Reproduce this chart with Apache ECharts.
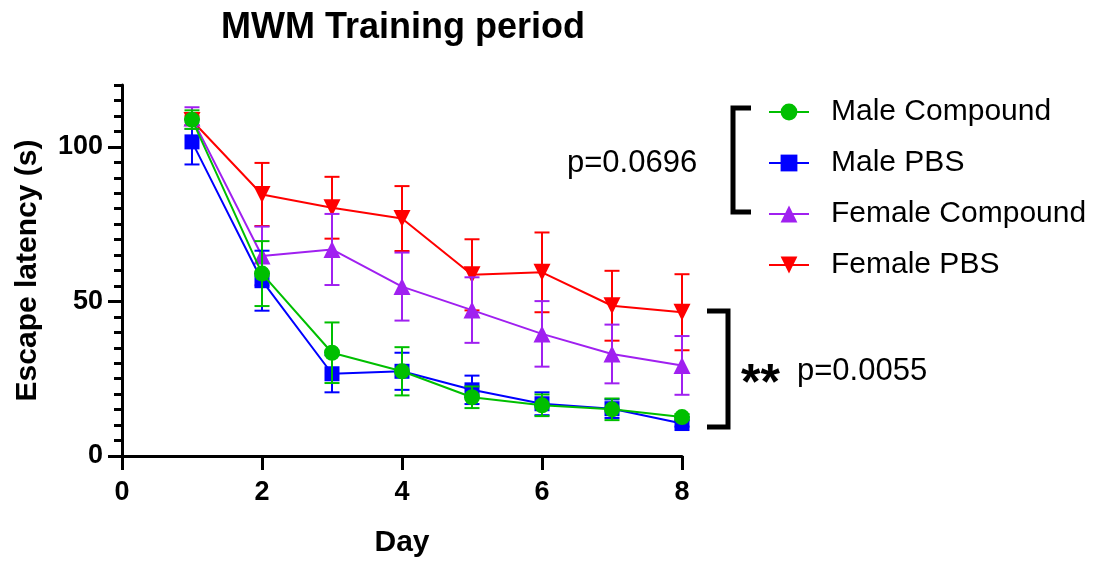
<!DOCTYPE html>
<html>
<head>
<meta charset="utf-8">
<script src="https://cdn.jsdelivr.net/npm/echarts@6/dist/echarts.min.js"></script>
<style>
html,body{margin:0;padding:0;background:#fff;}
#chart{width:1093px;height:561px;}
</style>
</head>
<body>
<div id="chart"></div>
<script>
// ---- data ----
const days = [1, 2, 3, 4, 5, 6, 7, 8];
const seriesNames = ['Male Compound', 'Male PBS', 'Female Compound', 'Female PBS'];
const maleCompound     = [108.8, 59.0, 33.4, 27.4, 19.0, 16.4, 15.1, 12.6];
const maleCompoundSem  = [3.0, 10.5, 9.8, 7.8, 3.5, 3.5, 3.5, 1.0];
const malePBS          = [101.6, 56.7, 26.6, 27.4, 21.4, 16.9, 15.3, 10.5];
const malePBSSem       = [7.3, 9.7, 6.0, 6.0, 4.6, 3.7, 3.0, 1.0];
const femaleCompound   = [109.3, 64.7, 66.8, 54.8, 47.2, 39.5, 33.0, 29.3];
const femaleCompoundSem= [3.5, 9.5, 11.5, 11.0, 10.6, 10.6, 9.5, 9.5];
const femalePBS        = [108.5, 84.6, 80.3, 76.8, 58.6, 59.4, 48.6, 46.5];
const femalePBSSem     = [1.5, 10.2, 10.0, 10.5, 11.5, 12.9, 11.3, 12.3];
const xTicks = [0, 2, 4, 6, 8];
const yMajorTicks = [0, 50, 100];
const annotations = ['p=0.0696', '**', 'p=0.0055'];

const colors = ['#00BF00', '#0000FF', '#A020F0', '#FF0000'];
const means = [maleCompound, malePBS, femaleCompound, femalePBS];
const sems = [maleCompoundSem, malePBSSem, femaleCompoundSem, femalePBSSem];
const symbols = ['circle', 'rect', 'triangle', 'path://M0,0 L10,0 L5,9 Z'];
const symbolSizes = [16, 15, 17, 17];
const zs = [10, 8, 6, 4];
const FONT = '"Liberation Sans", Arial, sans-serif';

const chart = echarts.init(document.getElementById('chart'));

function errRenderer(color) {
  return function (params, api) {
    const x = api.value(0), lo = api.value(1), hi = api.value(2);
    const pLo = api.coord([x, lo]);
    const pHi = api.coord([x, hi]);
    const hw = 7.5;
    const style = { stroke: color, lineWidth: 2, fill: null };
    return {
      type: 'group',
      children: [
        { type: 'line', shape: { x1: pLo[0], y1: pLo[1], x2: pHi[0], y2: pHi[1] }, style: style },
        { type: 'line', shape: { x1: pLo[0] - hw, y1: pLo[1], x2: pLo[0] + hw, y2: pLo[1] }, style: style },
        { type: 'line', shape: { x1: pHi[0] - hw, y1: pHi[1], x2: pHi[0] + hw, y2: pHi[1] }, style: style }
      ]
    };
  };
}

const series = [];
seriesNames.forEach(function (name, i) {
  series.push({
    name: name + ' err',
    type: 'custom',
    renderItem: errRenderer(colors[i]),
    data: days.map(function (d, k) { return [d, means[i][k] - sems[i][k], means[i][k] + sems[i][k]]; }),
    encode: { x: 0, y: [1, 2] },
    z: zs[i] - 1,
    silent: true
  });
  series.push({
    name: name,
    type: 'line',
    data: days.map(function (d, k) { return [d, means[i][k]]; }),
    symbol: symbols[i],
    symbolSize: symbolSizes[i],
    showAllSymbol: true,
    color: colors[i],
    lineStyle: { color: colors[i], width: 2 },
    itemStyle: { color: colors[i] },
    z: zs[i],
    animation: false
  });
});

const option = {
  animation: false,
  backgroundColor: '#fff',
  title: {
    text: 'MWM Training period',
    left: 398, top: 5,
    textAlign: 'center',
    textStyle: { fontFamily: FONT, fontSize: 36, fontWeight: 'bold', color: '#000' }
  },
  legend: {
    data: seriesNames,
    orient: 'vertical',
    left: 768, top: 97,
    itemWidth: 40, itemHeight: 21,
    itemGap: 21,
    padding: 0,
    textStyle: { fontFamily: FONT, fontSize: 30, color: '#000', padding: [0, 0, 0, 17] }
  },
  grid: { left: 122, top: 85, width: 560, height: 371, containLabel: false, outerBoundsMode: 'none' },
  xAxis: {
    type: 'value', min: 0, max: 8, interval: 2,
    name: 'Day', nameLocation: 'middle', nameGap: 72,
    nameTextStyle: { fontFamily: FONT, fontSize: 30, fontWeight: 'bold', color: '#000' },
    axisLine: { show: true, lineStyle: { color: '#000', width: 3 } },
    axisTick: { show: true, length: 14, lineStyle: { color: '#000', width: 3 } },
    axisLabel: { fontFamily: FONT, fontSize: 27, fontWeight: 'bold', color: '#000', margin: 23,
      formatter: function (v) { return xTicks.indexOf(v) >= 0 ? String(v) : ''; } },
    splitLine: { show: false }
  },
  yAxis: [{
    type: 'value', min: 0, max: 120, interval: 50, position: 'left',
    name: 'Escape latency (s)', nameLocation: 'middle', nameGap: 79,
    nameTextStyle: { fontFamily: FONT, fontSize: 30, fontWeight: 'bold', color: '#000' },
    axisLine: { show: true, lineStyle: { color: '#000', width: 3 } },
    axisTick: { show: true, length: 14, customValues: yMajorTicks, lineStyle: { color: '#000', width: 3 } },
    axisLabel: { fontFamily: FONT, fontSize: 27, fontWeight: 'bold', color: '#000', margin: 19, customValues: yMajorTicks },
    splitLine: { show: false }
  }, {
    type: 'value', min: 0, max: 120, interval: 5, position: 'left', offset: 0,
    axisLine: { show: false },
    axisTick: { show: true, length: 8, lineStyle: { color: '#000', width: 3 } },
    axisLabel: { show: false },
    splitLine: { show: false }
  }],
  graphic: [
    { type: 'polyline', shape: { points: [[751, 108], [733, 108], [733, 212], [751, 212]] },
      style: { stroke: '#000', lineWidth: 5, fill: null } },
    { type: 'polyline', shape: { points: [[707, 311], [728, 311], [728, 427], [707, 427]] },
      style: { stroke: '#000', lineWidth: 5, fill: null } },
    { type: 'text', left: 567, top: 148,
      style: { text: annotations[0], font: '31px ' + FONT, fill: '#000' } },
    { type: 'text', left: 741, top: 360,
      style: { text: annotations[1], font: 'bold 50px ' + FONT, fill: '#000' } },
    { type: 'text', left: 797, top: 356,
      style: { text: annotations[2], font: '31px ' + FONT, fill: '#000' } }
  ],
  series: series
};
chart.setOption(option);
</script>
</body>
</html>
